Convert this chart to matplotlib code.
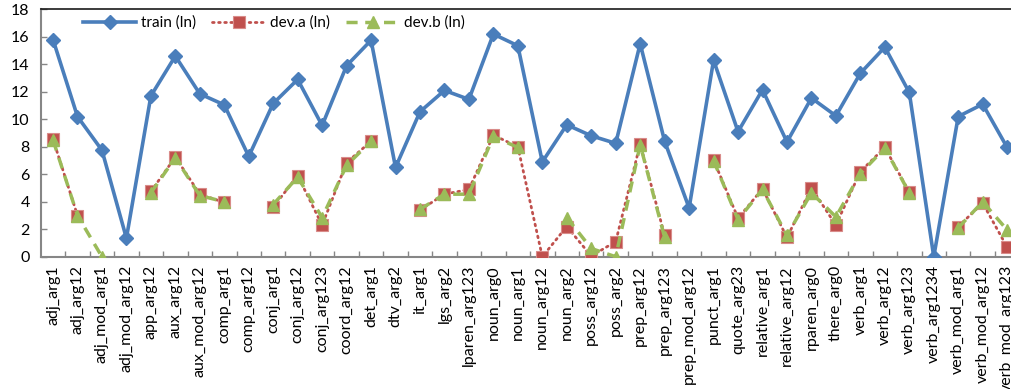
import matplotlib
matplotlib.use("Agg")
import matplotlib.pyplot as plt
import numpy as np

plt.rcParams['font.family'] = ['Lato', 'DejaVu Sans']

categories = [
    "adj_arg1", "adj_arg12", "adj_mod_arg1", "adj_mod_arg12", "app_arg12",
    "aux_arg12", "aux_mod_arg12", "comp_arg1", "comp_arg12", "conj_arg1",
    "conj_arg12", "conj_arg123", "coord_arg12", "det_arg1", "dtv_arg2",
    "it_arg1", "lgs_arg2", "lparen_arg123", "noun_arg0", "noun_arg1",
    "noun_arg12", "noun_arg2", "poss_arg12", "poss_arg2", "prep_arg12",
    "prep_arg123", "prep_mod_arg12", "punct_arg1", "quote_arg23", "relative_arg1",
    "relative_arg12", "rparen_arg0", "there_arg0", "verb_arg1", "verb_arg12",
    "verb_arg123", "verb_arg1234", "verb_mod_arg1", "verb_mod_arg12", "verb_mod_arg123",
]

train = [15.8, 10.2, 7.75, 1.35, 11.7, 14.6, 11.85, 11.05, 7.3, 11.15,
         12.9, 9.55, 13.9, 15.75, 6.5, 10.55, 12.1, 11.45, 16.2, 15.35,
         6.9, 9.6, 8.8, 8.25, 15.5, 8.4, 3.55, 14.3, 9.1, 12.15,
         8.35, 11.55, 10.25, 13.35, 15.25, 11.95, 0.0, 10.2, 11.1, 7.95]

nan = np.nan
dev_a = [8.55, 3.0, nan, nan, 4.75, 7.25, 4.55, 3.95, nan, 3.6,
         5.9, 2.3, 6.85, 8.4, nan, 3.4, 4.55, 4.9, 8.85, 8.0,
         0.0, 2.2, 0.05, 1.1, 8.2, 1.55, nan, 7.05, 2.8, 4.95,
         1.4, 5.0, 2.3, 6.2, 7.95, 4.7, nan, 2.2, 3.9, 0.7]

dev_b = [8.5, 3.0, 0.0, nan, 4.65, 7.2, 4.45, 4.0, nan, 3.8,
         5.8, 2.85, 6.65, 8.4, nan, 3.45, 4.55, 4.55, 8.75, 7.95,
         nan, 2.85, 0.6, 0.0, 8.15, 1.4, nan, 7.0, 2.7, 4.9,
         1.55, 4.65, 2.9, 6.05, 7.9, 4.65, nan, 2.1, 4.0, 1.95]

blue = "#4A7EBB"
red = "#C0504D"
green = "#9BBB59"
axis_grey = "#868686"

fig = plt.figure(figsize=(10.12, 3.89), dpi=100)
ax = fig.add_axes([0.0403, 0.340, 0.967, 0.636])

x = np.arange(len(categories))
ax.plot(x, train, color=blue, lw=2.6, marker="D", ms=7.4,
        markerfacecolor=blue, markeredgecolor=blue, label="train (ln)", zorder=3)
ax.plot(x, dev_a, color=red, lw=2.0, ls=(0, (0.6, 1.6)), dash_capstyle="round",
        marker="s", ms=8.5, markerfacecolor=red, markeredgecolor="#D98C8A",
        markeredgewidth=0.8, label="dev.a (ln)", zorder=4)
ax.plot(x, dev_b, color=green, lw=2.5, ls=(0, (3.2, 2.2)),
        marker="^", ms=9, markerfacecolor=green, markeredgecolor=green,
        label="dev.b (ln)", zorder=5)

ax.set_xlim(-0.5, len(categories) - 0.5)
ax.set_ylim(0, 18)
ax.set_yticks(np.arange(0, 19, 2))
ax.set_xticks(x)
ax.set_xticklabels(categories, rotation=90, fontsize=11.5)
ax.set_xticks(x[:-1] + 0.5, minor=True)
ax.tick_params(axis="x", which="major", length=0, pad=6)
ax.tick_params(axis="x", which="minor", direction="in", length=4, color=axis_grey, width=1)
ax.tick_params(axis="y", direction="in", length=4, color=axis_grey, width=1, labelsize=11.5, pad=8)

for side in ("left", "bottom"):
    ax.spines[side].set_color(axis_grey)
    ax.spines[side].set_linewidth(1.5)
ax.spines["top"].set_color("#1A1A1A")
ax.spines["top"].set_linewidth(1.2)
ax.spines["right"].set_visible(False)

ax.legend(loc="center left", bbox_to_anchor=(0.043, 0.945), ncol=3, frameon=False,
          fontsize=11, handlelength=3.5, handletextpad=0.3, columnspacing=1.05,
          borderpad=0, borderaxespad=0)

ax.margins(0)
for spine in ax.spines.values():
    spine.set_clip_on(False)

fig.savefig("out.png", dpi=100)
